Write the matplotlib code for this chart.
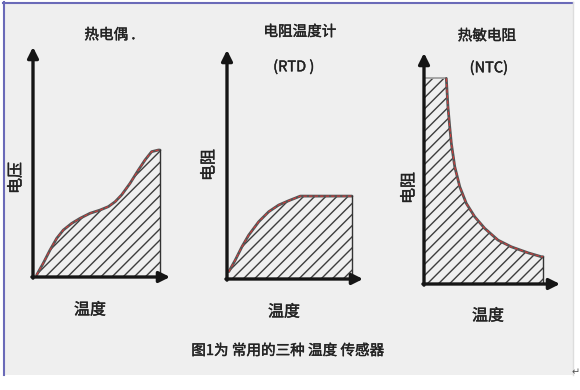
import matplotlib.pyplot as plt
import matplotlib.patheffects as pe
from matplotlib.patches import Rectangle

plt.rcParams['font.family'] = ['Noto Sans CJK SC', 'DejaVu Sans']
plt.rcParams['hatch.linewidth'] = 1.0

# 热电偶: 电压 vs 温度
tc_x = [2.7, 7.5, 12.4, 17.3, 22.1, 28.2, 34.3, 41.6, 48.9, 55.0, 59.9,
        64.7, 70.8, 76.9, 81.8, 86.6, 91.5, 92.7]
tc_y = [0.9, 6.0, 11.7, 16.8, 20.4, 23.3, 25.5, 27.7, 29.1, 30.6, 32.7,
        35.7, 40.7, 46.5, 50.9, 54.5, 55.2, 55.2]
# 电阻温度计 (RTD)
rtd_x = [1.3, 6.1, 11.0, 16.0, 23.3, 30.7, 38.0, 45.4, 53.9, 91.9]
rtd_y = [3.2, 8.3, 14.1, 19.2, 25.0, 29.4, 32.3, 34.2, 36.2, 36.2]
# 热敏电阻 (NTC)
ntc_x = [0, 16.4, 17.6, 18.9, 20.1, 22.6, 26.3, 31.1, 37.3, 44.6, 54.4,
         64.2, 76.5, 86.3, 87.5]
ntc_y = [89.0, 89.0, 76.8, 68.1, 60.9, 50.8, 42.1, 34.9, 29.1, 24.1, 19.0,
         16.1, 13.5, 11.8, 11.8]

W, H = 580, 390
fig = plt.figure(figsize=(5.8, 3.9), dpi=100)
fig.patch.set_facecolor('white')

# background in pixel coords
bg = fig.add_axes([0, 0, 1, 1])
bg.set_xlim(0, W)
bg.set_ylim(H, 0)
bg.axis('off')
bg.add_patch(Rectangle((3, 2), 570, 373, facecolor='#efefef', edgecolor='none'))
bg.plot([3, 573], [2.5, 2.5], color='#6a6ab8', lw=1.5)
bg.plot([3.5, 3.5], [2, 375], color='#6a6ab8', lw=1.5)
bg.plot([573, 573], [2, 375], color='#dddddd', lw=1)
bg.text(576, 372, '↵', fontsize=7, color='#555555', ha='center', va='center')


def panel(box, xs, ys, skip=0):
    x0, y0, w, h = box  # origin pixel, width/height to arrow tips
    ax = fig.add_axes([x0 / W, (H - y0) / H, w / W, h / H])
    ax.set_xlim(0, 100)
    ax.set_ylim(0, 100)
    ax.axis('off')
    ax.fill_between(xs, ys, 0, facecolor='none', edgecolor='#3c3c3c',
                    hatch='///', linewidth=0)
    if skip:
        ax.plot(xs[:skip + 1], ys[:skip + 1], color='#9a9a9a', lw=1.2)
    ax.plot(xs[skip:], ys[skip:], color='#555555', lw=2.0,
            solid_capstyle='round', solid_joinstyle='round')
    ax.plot(xs[skip:], ys[skip:], color='#d23a3a', lw=0.8, ls=(0, (3, 2)))
    ax.plot([xs[-1], xs[-1]], [0, ys[-1]], color='#333333', lw=1.0)
    arrow = dict(arrowstyle='-|>', lw=2.4, color='#151515',
                 mutation_scale=16, shrinkA=0, shrinkB=0)
    ax.annotate('', xy=(1, 0), xytext=(-0.008, 0), xycoords='axes fraction',
                arrowprops=arrow, annotation_clip=False)
    ax.annotate('', xy=(0, 1), xytext=(0, -0.005), xycoords='axes fraction',
                arrowprops=arrow, annotation_clip=False)
    return ax


panel((33, 277, 137, 230), tc_x, tc_y)
panel((227, 279, 136, 229), rtd_x, rtd_y)
panel((424, 284, 136, 231), ntc_x, ntc_y, skip=1)

# regular weight, thickened a little like the scanned original
thick = [pe.withStroke(linewidth=0.3, foreground='#222222')]
tkw = dict(ha='center', va='center', color='#222222', path_effects=thick)
bg.text(110, 35, '热电偶 .', fontsize=10.5, **tkw)
bg.text(300, 32, '电阻温度计', fontsize=10.5, **tkw)
bg.text(294, 67, '(RTD )', fontsize=10.5, **tkw)
bg.text(487, 36, '热敏电阻', fontsize=10.5, **tkw)
bg.text(489, 68, '(NTC)', fontsize=10.5, **tkw)

bg.text(16, 178, '电压', fontsize=11.5, rotation=90, **tkw)
bg.text(209, 165, '电阻', fontsize=11.5, rotation=90, **tkw)
bg.text(409, 188, '电阻', fontsize=11.5, rotation=90, **tkw)

bg.text(90, 310, '温度', fontsize=11.5, **tkw)
bg.text(284, 312, '温度', fontsize=11.5, **tkw)
bg.text(488, 316, '温度', fontsize=11.5, **tkw)

bg.text(288, 351, '图1为 常用的三种 温度 传感器', fontsize=10.5, **tkw)

fig.savefig('out.png', dpi=100)
